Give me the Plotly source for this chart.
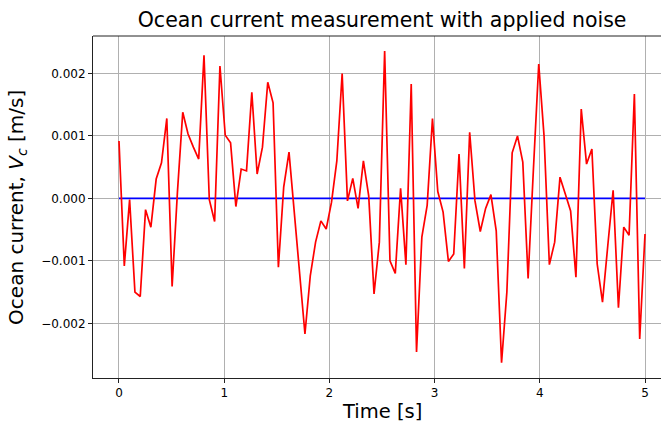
import numpy as np
import plotly.graph_objects as go

# Measured (noisy) ocean current [m/s], 100 samples over 0..5 s
current = [
    0.00092, -0.00108, -0.00002, -0.0015, -0.00157, -0.00018, -0.00046, 0.00031, 0.00057, 0.00128,
    -0.00141, 0.0001, 0.00138, 0.00103, 0.00082, 0.00063, 0.00229, -0.00002, -0.00037, 0.00212,
    0.00101, 0.00089, -0.00013, 0.00047, 0.00044, 0.0017, 0.00039, 0.00082, 0.00186, 0.00153,
    -0.0011, 0.00018, 0.00074, -0.0002, -0.0012, -0.00217, -0.00124, -0.0007, -0.00036, -0.00049,
    -0.00006, 0.0006, 0.002, -0.00004, 0.00032, -0.00016, 0.0006, 0.00004, -0.00153, -0.0007,
    0.00236, -0.001, -0.0012, 0.00016, -0.00106, 0.00183, -0.00246, -0.00062, -0.00011, 0.00128,
    0.00011, -0.00022, -0.00101, -0.00089, 0.00071, -0.00112, 0.00106, -0.00004, -0.00053, -0.00016,
    0.00006, -0.00052, -0.00263, -0.0015, 0.00073, 0.001, 0.00058, -0.00128, 0.00047, 0.00215,
    0.001, -0.00106, -0.0007, 0.00034, 0.00007, -0.0002, -0.00126, 0.00143, 0.00055, 0.00079,
    -0.00105, -0.00166, -0.00075, 0.00013, -0.00175, -0.00046, -0.00059, 0.00167, -0.00225, -0.00057,
]
true_current = [0.0] * len(current)
time = np.linspace(0, 5, len(current))

x_tickvals = [0, 1, 2, 3, 4, 5]
x_ticktext = ["0", "1", "2", "3", "4", "5"]
y_tickvals = [-0.002, -0.001, 0.0, 0.001, 0.002]
y_ticktext = ["\u22120.002", "\u22120.001", "0.000", "0.001", "0.002"]

FONT = "DejaVu Sans"

fig = go.Figure()
fig.add_trace(go.Scatter(x=time, y=true_current, mode="lines",
                         line=dict(color="#0000ff", width=1.7), showlegend=False))
fig.add_trace(go.Scatter(x=time, y=current, mode="lines",
                         line=dict(color="#ff0000", width=1.7), showlegend=False))

fig.update_layout(
    width=662, height=423,
    margin=dict(l=93, r=1, t=36, b=45),
    paper_bgcolor="white", plot_bgcolor="white",
    font=dict(family=FONT, size=12, color="black"),
    title=dict(text="Ocean current measurement with applied noise",
               font=dict(family=FONT, size=20.5, color="black"),
               xref="paper", x=0.509, xanchor="center",
               yref="container", y=0.952, yanchor="middle"),
    xaxis=dict(range=[-0.247, 5.152], tickvals=x_tickvals, ticktext=x_ticktext,
               showgrid=True, gridcolor="#b0b0b0", gridwidth=0.8,
               showline=True, linecolor="#222222", linewidth=1,
               ticks="outside", ticklen=4, tickcolor="#222222",
               zeroline=False, tickfont=dict(size=12)),
    yaxis=dict(range=[-0.002875, 0.0026], tickvals=y_tickvals, ticktext=y_ticktext,
               showgrid=True, gridcolor="#b0b0b0", gridwidth=0.8,
               showline=True, linecolor="#222222", linewidth=1,
               ticks="outside", ticklen=4, tickcolor="#222222",
               zeroline=False, tickfont=dict(size=12)),
    shapes=[dict(type="line", xref="paper", yref="paper", x0=0, x1=1, y0=1, y1=1,
                 line=dict(color="#222222", width=1))],
    annotations=[
        dict(text="Time [s]", xref="paper", yref="paper", x=0.509, y=-0.097,
             xanchor="center", yanchor="middle", showarrow=False,
             font=dict(family=FONT, size=19.5, color="black")),
        dict(text="Ocean current, <i>V</i><sub><i>c</i></sub> [m/s]", xref="paper", yref="paper",
             x=-0.134, y=0.5, xanchor="center", yanchor="middle", textangle=-90,
             showarrow=False, font=dict(family=FONT, size=20, color="black")),
    ],
)

fig.write_html("out.html", config={"displayModeBar": False},
               post_script="document.body.style.margin='0';document.body.style.overflow='hidden';")
